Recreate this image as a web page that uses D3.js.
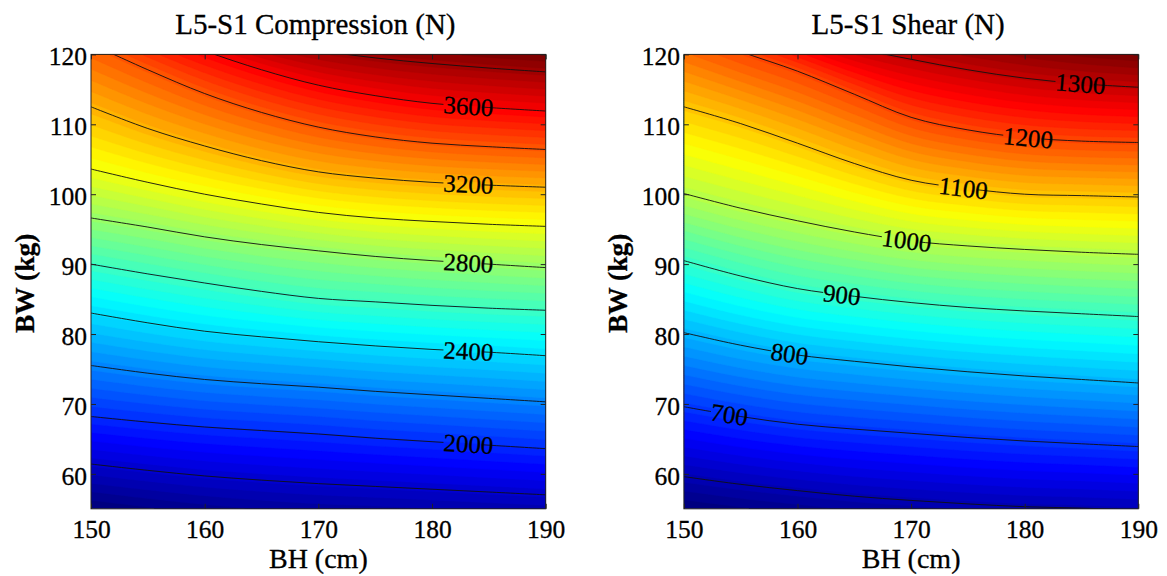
<!DOCTYPE html>
<html><head><meta charset="utf-8">
<script src="https://cdn.jsdelivr.net/npm/d3@7"></script>
<style>
body{margin:0;background:#fff}
svg{display:block}
text{font-family:"Liberation Serif","Times New Roman",serif;fill:#000;stroke:#000;stroke-width:0.3px}
</style></head>
<body><svg id="c" width="1167" height="576"></svg>
<script>
// ---- data ----
const bhCols = [150,155,160,165,170,175,180,185,190];
const bhTicks = [150,160,170,180,190];
const bwTicks = [60,70,80,90,100,110,120];

const compTitle = "L5-S1 Compression (N)";
const compLevels = [1800,2000,2200,2400,2600,2800,3000,3200,3400,3600,3800];
// BW position (kg) of each contour line at each bhCols value
const compBW = [
  [61.4,60.5,59.7,59.1,58.6,58.2,57.8,57.4,57.0],
  [68.2,67.4,66.7,66.2,65.7,65.1,64.6,64.1,63.6],
  [75.5,74.4,73.5,72.9,72.4,71.8,71.3,70.8,70.3],
  [83.0,81.6,80.4,79.6,78.9,78.3,77.8,77.4,76.9],
  [90.0,88.6,87.3,86.1,85.1,84.6,84.1,83.7,83.4],
  [96.6,95.3,93.9,92.8,91.9,91.1,90.5,90.0,89.5],
  [103.6,101.7,100.0,98.6,97.4,96.6,96.1,95.7,95.4],
  [112.5,109.4,106.9,104.8,103.2,102.3,101.7,101.3,101.0],
  [121.5,117.8,114.4,111.7,109.6,108.2,107.3,106.8,106.4],
  [127.0,123.6,120.5,117.8,115.6,114.1,113.0,112.4,111.9],
  [130.8,127.6,124.8,122.3,120.6,119.5,118.7,118.05,117.5]
];
const compColorRange = [1612, 3889];
const compLabelLevels = [2000,2400,2800,3200,3600];
const compLabelBH = [183.2,183.2,183.2,183.2,183.2];

const shearTitle = "L5-S1 Shear (N)";
const shearLevels = [600,700,800,900,1000,1100,1200,1300];
const shearBW = [
  [59.6,58.5,57.6,56.8,56.2,55.7,55.3,55.1,54.8],
  [69.6,68.2,67.1,66.4,65.8,65.2,64.7,64.3,63.9],
  [80.2,78.4,77.0,76.1,75.3,74.6,74.0,73.5,73.0],
  [90.5,88.3,86.5,85.4,84.5,83.8,83.3,82.9,82.5],
  [100.1,98.0,96.2,94.6,93.3,92.6,92.1,91.7,91.4],
  [112.5,110.1,107.3,104.4,102.0,100.8,100.0,99.8,99.6],
  [123.5,120.4,117.6,114.3,111.0,109.2,108.1,107.6,107.4],
  [130.0,126.5,123.5,121.0,119.3,117.8,116.6,115.8,115.3]
];
const shearColorRange = [554, 1360];
const shearLabelLevels = [700,800,900,1000,1100,1200,1300];
const shearLabelBH = [154.0,159.3,163.9,169.6,174.6,180.3,184.9];

// ---- helpers ----
function jet(t){
  t = Math.max(0, Math.min(1, t));
  const c = v => Math.round(255*Math.max(0, Math.min(1, v)));
  return `rgb(${c(1.5-Math.abs(4*t-3))},${c(1.5-Math.abs(4*t-2))},${c(1.5-Math.abs(4*t-1))})`;
}
function colInterp(row, bh){
  const step = bhCols[1]-bhCols[0];
  const n = row.length;
  const t = (bh-bhCols[0])/step;
  let i = Math.floor(t); if (i<0) i=0; if (i>n-2) i=n-2;
  const u = t-i;
  const p1=row[i], p2=row[i+1];
  const p0 = i>0 ? row[i-1] : 2*p1-p2;
  const p3 = i+2<n ? row[i+2] : 2*p2-p1;
  return 0.5*(2*p1+(-p0+p2)*u+(2*p0-5*p1+4*p2-p3)*u*u+(-p0+3*p1-3*p2+p3)*u*u*u);
}

const svg = d3.select("#c");
const Y0 = 54.4, Y1 = 508.8;

function panel(id, x0, x1, title, levels, table, crange, labLevels, labBH){
  const xs = d3.scaleLinear().domain([150,190]).range([x0,x1]);
  const ys = d3.scaleLinear().domain([55,120]).range([Y1,Y0]);
  const defs = svg.append("defs");
  defs.append("clipPath").attr("id","clip"+id).append("rect")
    .attr("x",x0).attr("y",Y0).attr("width",x1-x0).attr("height",Y1-Y0);

  // ---- field from the contour traces, for the filled colours ----
  const nx = 240, ny = 240;
  const vals = new Float64Array(nx*ny);
  for (let i=0;i<nx;i++){
    const bh = 150 + (i+0.5)/nx*40;
    const p = table.map(r => colInterp(r, bh));
    for (let j=0;j<ny;j++){
      const bw = 120 - (j+0.5)/ny*65;
      let k = 0;
      while (k < p.length-2 && bw >= p[k+1]) k++;
      vals[j*nx+i] = levels[k] + (bw-p[k])/(p[k+1]-p[k])*(levels[k+1]-levels[k]);
    }
  }
  const N = 64;
  const vmin = d3.min(vals);
  const ths = d3.range(N).map(j => crange[0] + j*(crange[1]-crange[0])/N);
  ths[0] = Math.min(ths[0], vmin) - 1;
  const bands = d3.contours().size([nx,ny]).thresholds(ths)(vals);
  const proj = d3.geoTransform({point(x,y){
    this.stream.point(xs(150 + x/nx*40), ys(120 - y/ny*65));
  }});
  const path = d3.geoPath(proj);
  svg.append("g").attr("clip-path",`url(#clip${id})`)
    .selectAll("path").data(bands).join("path")
    .attr("d", path)
    .attr("fill", (d,i) => jet(i/(N-1)))
    .attr("stroke", (d,i) => jet(i/(N-1)))
    .attr("stroke-width", 0.4);

  // ---- label geometry ----
  const fs = 25;
  const labs = labLevels.map((L,i) => {
    const row = table[levels.indexOf(L)];
    const bh = labBH[i];
    const bw = colInterp(row, bh);
    const a = Math.atan2(ys(colInterp(row,bh+0.5))-ys(colInterp(row,bh-0.5)), xs(bh+0.5)-xs(bh-0.5))*180/Math.PI;
    const txt = String(L);
    return {x: xs(bh), y: ys(bw), a, txt, w: txt.length*fs*0.5};
  });
  const mask = defs.append("mask").attr("id","mask"+id)
    .attr("maskUnits","userSpaceOnUse").attr("x",0).attr("y",0).attr("width",1167).attr("height",576);
  mask.append("rect").attr("x",0).attr("y",0).attr("width",1167).attr("height",576).attr("fill","#fff");
  mask.selectAll("rect.m").data(labs).join("rect").attr("class","m")
    .attr("transform", d => `translate(${d.x},${d.y}) rotate(${d.a})`)
    .attr("x", d => -d.w/2).attr("y", -9)
    .attr("width", d => d.w*(d.txt.length-1)/d.txt.length + 1).attr("height", 18)
    .attr("fill","#000");

  // ---- contour lines ----
  const line = d3.line().x(d => xs(d[0])).y(d => ys(d[1])).curve(d3.curveCatmullRom.alpha(0));
  svg.append("g").attr("clip-path",`url(#clip${id})`)
    .append("g").attr("mask",`url(#mask${id})`)
    .selectAll("path").data(table).join("path")
    .attr("d", row => line(bhCols.map((b,i) => [b,row[i]])))
    .attr("fill","none").attr("stroke","#111").attr("stroke-width",0.9);

  svg.append("g").selectAll("text").data(labs).join("text")
    .attr("transform", d => `translate(${d.x},${d.y}) rotate(${d.a})`)
    .attr("text-anchor","middle").attr("dy","0.34em")
    .attr("font-size", fs).text(d => d.txt);

  // ---- axes ----
  const style = s => { s.select(".domain").remove();
    s.attr("font-size",25.5).attr("font-family","Liberation Serif, serif");
    s.selectAll(".tick line").attr("stroke","#222"); };
  svg.append("g").attr("transform",`translate(0,${Y1})`)
    .call(d3.axisBottom(xs).tickValues(bhTicks).tickFormat(d3.format("d")).tickSizeInner(-5).tickSizeOuter(0).tickPadding(11))
    .call(style);
  svg.append("g").attr("transform",`translate(0,${Y0})`)
    .call(d3.axisTop(xs).tickValues(bhTicks).tickFormat(() => "").tickSizeInner(-5).tickSizeOuter(0))
    .call(style);
  const yl = svg.append("g").attr("transform",`translate(${x0},0)`)
    .call(d3.axisLeft(ys).tickValues(bwTicks).tickFormat(d3.format("d")).tickSizeInner(-5).tickSizeOuter(0).tickPadding(4))
    .call(style);
  yl.selectAll(".tick text").attr("dy","0.4em");
  svg.append("g").attr("transform",`translate(${x1},0)`)
    .call(d3.axisRight(ys).tickValues(bwTicks).tickFormat(() => "").tickSizeInner(-5).tickSizeOuter(0))
    .call(style);

  svg.append("rect").attr("x",x0).attr("y",Y0).attr("width",x1-x0).attr("height",Y1-Y0)
    .attr("fill","none").attr("stroke","#222").attr("stroke-width",1);

  // ---- titles ----
  const cx = (x0+x1)/2;
  svg.append("text").attr("x",cx-3).attr("y",34).attr("text-anchor","middle")
    .attr("font-size",29).text(title);
  svg.append("text").attr("x",cx).attr("y",568).attr("text-anchor","middle")
    .attr("font-size",28).text("BH (cm)");
  svg.append("text").attr("transform",`translate(${x0-57.2},283.3) rotate(-90)`)
    .attr("text-anchor","middle").attr("font-size",27.5).attr("font-weight","bold").text("BW (kg)");
}

panel(0, 91, 545.7, compTitle, compLevels, compBW, compColorRange, compLabelLevels, compLabelBH);
panel(1, 683.9, 1138.3, shearTitle, shearLevels, shearBW, shearColorRange, shearLabelLevels, shearLabelBH);
</script></body></html>
